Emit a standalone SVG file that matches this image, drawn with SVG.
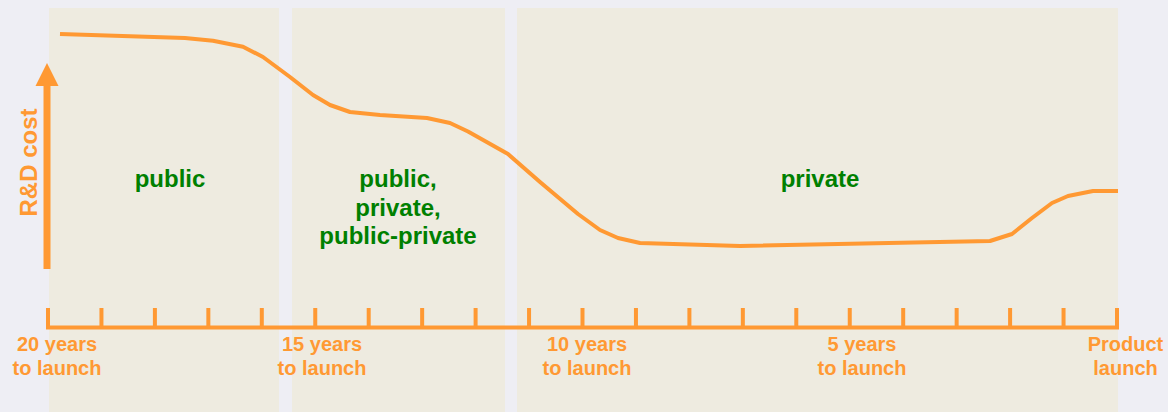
<svg xmlns="http://www.w3.org/2000/svg" width="1168" height="412" viewBox="0 0 1168 412">
<style>
.panel{fill:#eeebe0}
.ax{fill:none;stroke:#ff9933;stroke-width:4;stroke-linejoin:miter;stroke-linecap:butt}
.curve{fill:none;stroke:#ff9933;stroke-width:4;stroke-linejoin:round}
.lab{font-family:"Liberation Sans",Arial,sans-serif;font-weight:bold;font-size:20px;fill:#ff9933;text-anchor:middle}
.grp{font-family:"Liberation Sans",Arial,sans-serif;font-weight:bold;font-size:24px;fill:#008000;text-anchor:middle}
.ylab{font-family:"Liberation Sans",Arial,sans-serif;font-weight:bold;font-size:24px;fill:#ff9933;text-anchor:middle}
</style>
<rect width="1168" height="412" fill="#eeeef4"/>
<g id="panels">
<rect class="panel" x="49" y="8" width="230" height="404"/>
<rect class="panel" x="292" y="8" width="213" height="404"/>
<rect class="panel" x="517" y="8" width="601" height="404"/>
</g>
<g id="group-labels">
<text class="grp" x="170" y="187">public</text>
<text class="grp" x="398" y="187">public,</text>
<text class="grp" x="398" y="216">private,</text>
<text class="grp" x="398" y="244">public-private</text>
<text class="grp" x="820" y="187">private</text>
</g>
<g id="y-axis">
<rect x="43.5" y="84" width="7" height="185" fill="#ff9933"/>
<polygon points="47,63 35.5,86 58.5,86" fill="#ff9933"/>
<text class="ylab" transform="translate(36.5,162.5) rotate(-90)">R&amp;D cost</text>
</g>
<g id="x-axis">
<path class="ax" d="M48,308 V327.5 H1117 V308"/>
<path class="ax" d="M101.45,308V327.5M154.9,308V327.5M208.35,308V327.5M261.8,308V327.5M315.25,308V327.5M368.7,308V327.5M422.15,308V327.5M475.6,308V327.5M529.05,308V327.5M582.5,308V327.5M635.95,308V327.5M689.4,308V327.5M742.85,308V327.5M796.3,308V327.5M849.75,308V327.5M903.2,308V327.5M956.65,308V327.5M1010.1,308V327.5M1063.55,308V327.5"/>
<text class="lab" x="57" y="351">20 years</text>
<text class="lab" x="57" y="375">to launch</text>
<text class="lab" x="322" y="351">15 years</text>
<text class="lab" x="322" y="375">to launch</text>
<text class="lab" x="587" y="351">10 years</text>
<text class="lab" x="587" y="375">to launch</text>
<text class="lab" x="862" y="351">5 years</text>
<text class="lab" x="862" y="375">to launch</text>
<text class="lab" x="1125.5" y="351">Product</text>
<text class="lab" x="1125.5" y="375">launch</text>
</g>
<g id="connectors">
<polyline class="curve" points="60,34 185,38 213,40.7 243,46.7 263,57 290,77 313,95 330,105 350,112 380,115 427,118 450,123 468,131.5 508,154 540,182 578,214 600,230 618,238 640,243 740,246 990,241 1012,234 1032,218 1052,203 1068,196 1093,191 1118,191"/>
</g>
</svg>
